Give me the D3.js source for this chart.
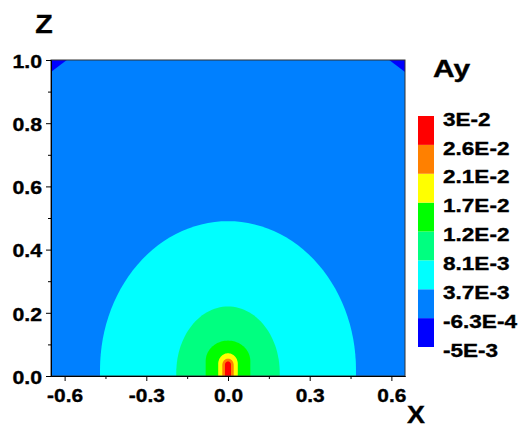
<!DOCTYPE html>
<html>
<head>
<meta charset="utf-8">
<script src="https://cdn.jsdelivr.net/npm/d3@7"></script>
<style>
  body { margin: 0; background: #fff; }
  svg text { font-family: "Liberation Sans", Arial, sans-serif; font-weight: bold; fill: #000; stroke: #000; stroke-width: 0.35px; }
</style>
</head>
<body>
<div id="chart"></div>
<script>
// contour levels of Ay, as in the legend
const levels = [-0.005, -0.00063, 0.0037, 0.0081, 0.012, 0.017, 0.021, 0.026, 0.03];
const levelLabels = ["-5E-3", "-6.3E-4", "3.7E-3", "8.1E-3", "1.2E-2", "1.7E-2", "2.1E-2", "2.6E-2", "3E-2"];
const bandColors = ["#0000FF", "#0080FF", "#00FFFF", "#00FF80", "#00FF00", "#FFFF00", "#FF8000", "#FF0000"];

// closed contours around the source at x = 0
const contourLevels    = [0.0037, 0.0081, 0.012, 0.017, 0.021, 0.026];
const contourHalfWidth = [0.47, 0.19, 0.082, 0.036, 0.021, 0.011];
const contourHeight    = [0.49, 0.22, 0.112, 0.072, 0.055, 0.046];
const contourCap       = [0.47, 0.21, 0.065, 0.034, 0.021, 0.01];

// -6.3E-4 contour cutting the two upper corners
const cornerLeftX  = [-0.65, -0.592, -0.65];
const cornerLeftZ  = [1.0, 1.0, 0.962];
const cornerRightX = [0.65, 0.592, 0.65];
const cornerRightZ = [1.0, 1.0, 0.962];

const xMajor = [-0.6, -0.3, 0.0, 0.3, 0.6];
const xMinor = [-0.45, -0.15, 0.15, 0.45];
const zMajor = [0.0, 0.2, 0.4, 0.6, 0.8, 1.0];
const zMinor = [0.1, 0.3, 0.5, 0.7, 0.9];

const width = 523, height = 429;
const mLeft = 51, mRight = 405, mTop = 60, mBottom = 376;

const svg = d3.select("#chart").append("svg")
  .attr("width", width)
  .attr("height", height);

const x = d3.scaleLinear().domain([-0.65, 0.65]).range([mLeft, mRight]);
const y = d3.scaleLinear().domain([0, 1]).range([mBottom, mTop]);

const bandOf = v => bandColors[d3.bisectRight(levels, v) - 1];

svg.append("defs").append("clipPath").attr("id", "plotClip")
  .append("rect")
  .attr("x", mLeft).attr("y", mTop)
  .attr("width", mRight - mLeft).attr("height", mBottom - mTop);

const plot = svg.append("g").attr("clip-path", "url(#plotClip)");

// background band: between -6.3E-4 and 3.7E-3
plot.append("rect")
  .attr("x", mLeft).attr("y", mTop)
  .attr("width", mRight - mLeft).attr("height", mBottom - mTop)
  .attr("fill", bandColors[1]);

const line = d3.line().x(d => x(d[0])).y(d => y(d[1]));

[[cornerLeftX, cornerLeftZ], [cornerRightX, cornerRightZ]].forEach(([cx, cz]) => {
  plot.append("path")
    .attr("d", line(cx.map((v, i) => [v, cz[i]])) + "Z")
    .attr("fill", bandColors[0]);
});

// each contour: vertical sides then an elliptic cap
contourLevels.forEach((lv, i) => {
  const a = contourHalfWidth[i], h = contourHeight[i], c = contourCap[i];
  const pts = [[-a, 0]];
  d3.range(0, 61).forEach(k => {
    const t = Math.PI - k * Math.PI / 60;
    pts.push([a * Math.cos(t), (h - c) + c * Math.sin(t)]);
  });
  pts.push([a, 0]);
  plot.append("path")
    .attr("d", line(pts) + "Z")
    .attr("fill", bandOf(lv + 1e-6));
});

// frame
svg.append("rect")
  .attr("x", mLeft).attr("y", mTop)
  .attr("width", mRight - mLeft).attr("height", mBottom - mTop)
  .attr("fill", "none").attr("stroke", "#333").attr("stroke-width", 1);

// axes
const fmt = d => d.toFixed(1);
const gx = svg.append("g").attr("transform", `translate(0,${mBottom})`)
  .call(d3.axisBottom(x).tickValues(xMajor).tickFormat(fmt).tickSize(5).tickSizeOuter(0));
svg.append("g").attr("transform", `translate(0,${mBottom})`)
  .call(d3.axisBottom(x).tickValues(xMinor).tickFormat("").tickSize(3).tickSizeOuter(0));
const gy = svg.append("g").attr("transform", `translate(${mLeft},0)`)
  .call(d3.axisLeft(y).tickValues(zMajor).tickFormat(fmt).tickSize(5).tickSizeOuter(0));
svg.append("g").attr("transform", `translate(${mLeft},0)`)
  .call(d3.axisLeft(y).tickValues(zMinor).tickFormat("").tickSize(3).tickSizeOuter(0));

svg.selectAll(".domain").attr("stroke", "#000");
svg.selectAll(".tick line").attr("stroke", "#000");

gx.selectAll("text")
  .attr("y", 0).attr("dy", null)
  .attr("transform", "translate(0,25.5) scale(1.1,1)")
  .style("font-size", "19px");
gy.selectAll("text")
  .attr("x", 0).attr("dy", "0.36em")
  .attr("transform", "translate(-9,0.5) scale(1.12,1)")
  .style("font-size", "19px");

// axis titles
svg.append("text").attr("transform", "translate(44,33) scale(1.1,1)")
  .attr("text-anchor", "middle").style("font-size", "26px").text("Z");
svg.append("text").attr("transform", "translate(416,423) scale(1.12,1)")
  .attr("text-anchor", "middle").style("font-size", "24px").text("X");

// legend
const legTop = 116, legBottom = 347, legX = 418, legW = 16;
const ly = d3.scaleLinear().domain([0, levels.length - 1]).range([legBottom, legTop]);
svg.append("g").selectAll("rect")
  .data(bandColors)
  .join("rect")
  .attr("x", legX).attr("width", legW)
  .attr("y", (d, i) => ly(i + 1))
  .attr("height", (d, i) => ly(i) - ly(i + 1))
  .attr("fill", d => d);

svg.append("g").selectAll("text")
  .data(levelLabels)
  .join("text")
  .attr("transform", (d, i) => `translate(443,${ly(i) + 3}) scale(1.22,1)`)
  .attr("dy", "0.36em")
  .style("font-size", "18.5px")
  .text(d => d);

svg.append("text").attr("transform", "translate(433,77) scale(1.25,1)")
  .style("font-size", "24px").text("Ay");
</script>
</body>
</html>
